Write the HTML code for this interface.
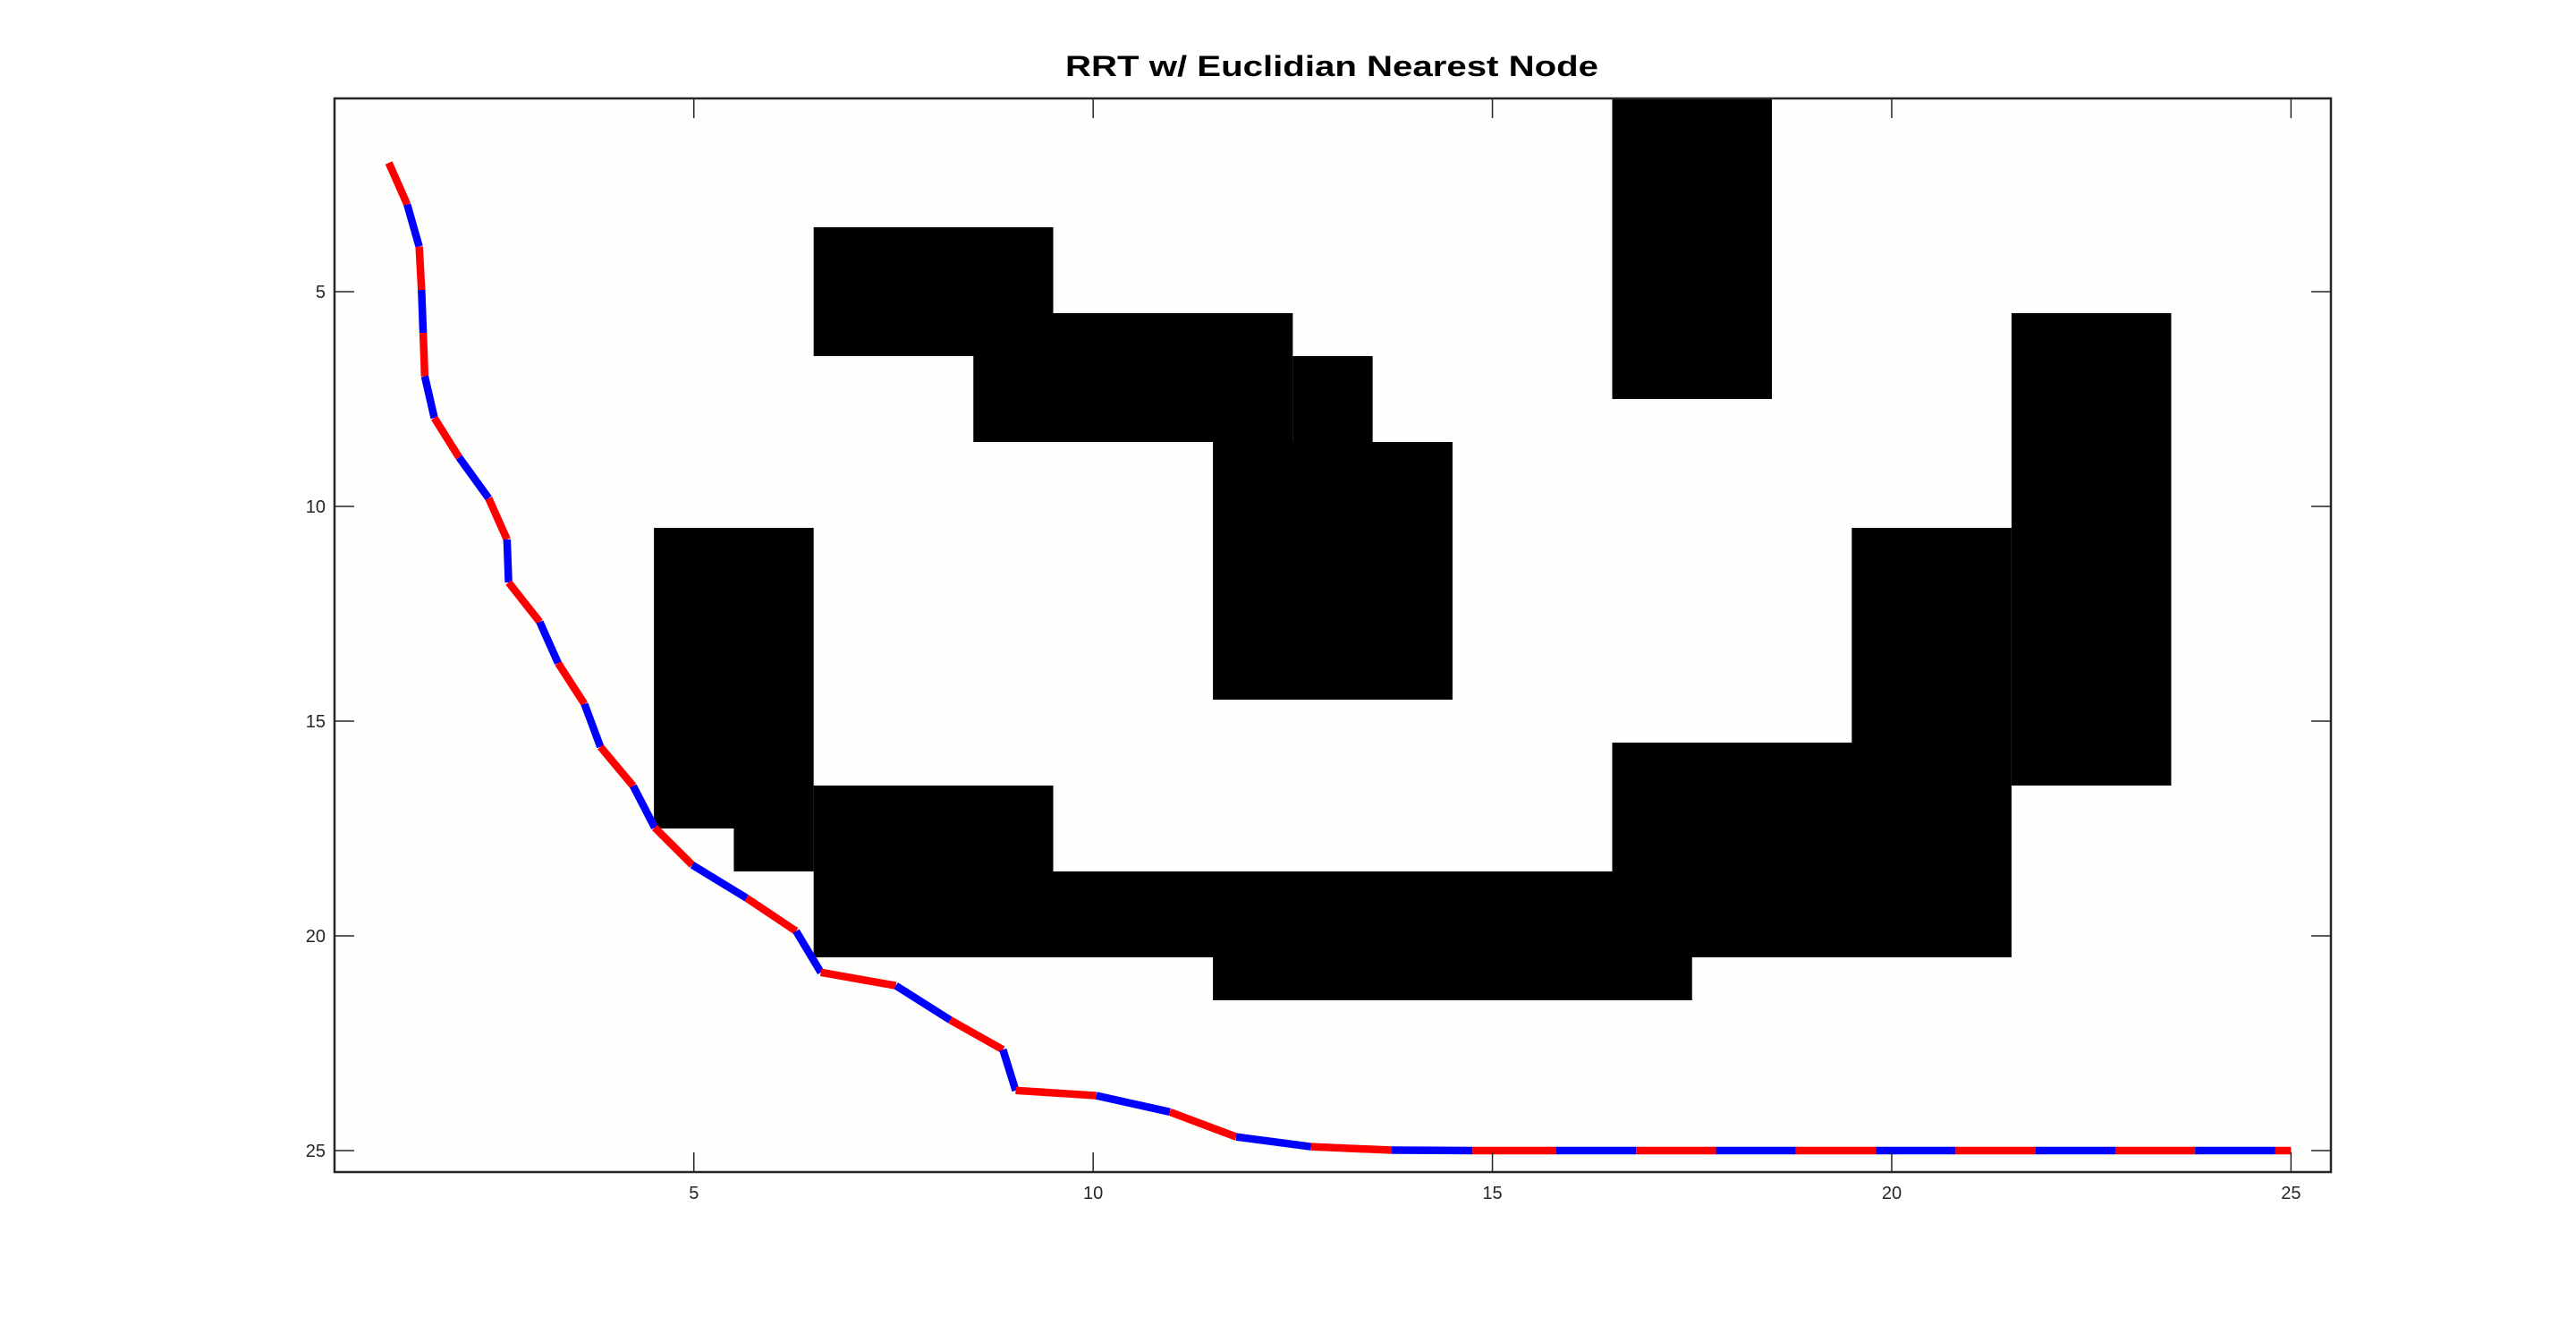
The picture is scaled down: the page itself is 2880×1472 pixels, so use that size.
<!DOCTYPE html>
<html><head><meta charset="utf-8"><style>
html,body{margin:0;padding:0;background:#fff;}
svg{display:block;}
text{font-family:"Liberation Sans",Arial,sans-serif;}
</style></head><body>
<svg id="chart" width="2880" height="1472" viewBox="0 0 2880 1472" xmlns="http://www.w3.org/2000/svg">
<rect x="0" y="0" width="2880" height="1472" fill="#ffffff"/>
<rect x="374" y="110" width="2232" height="1200" fill="#fefefc"/>
<g id="obstacles"></g>
<g id="path"></g>
<g id="axes"></g>
<text x="1489" y="85" text-anchor="middle" font-size="32" font-weight="bold" textLength="596" lengthAdjust="spacingAndGlyphs" fill="#000">RRT w/ Euclidian Nearest Node</text>
</svg>
<script>
// obstacle rectangles: [xmin, xmax, ymin, ymax] in data units
const obsX0 = [16.5, 6.5, 8.5, 12.5, 11.5, 4.5, 5.5, 6.5, 9.5, 11.5, 16.5, 19.5, 21.5];
const obsX1 = [18.5, 9.5, 12.5, 13.5, 14.5, 6.5, 6.5, 9.5, 16.5, 17.5, 21.5, 21.5, 23.5];
const obsY0 = [0.5, 3.5, 5.5, 6.5, 8.5, 10.5, 17.5, 16.5, 18.5, 20.5, 15.5, 10.5, 5.5];
const obsY1 = [7.5, 6.5, 8.5, 8.5, 14.5, 17.5, 18.5, 20.5, 20.5, 21.5, 20.5, 15.5, 16.5];
// path points
const pathX = [1.18,1.41,1.56,1.59,1.61,1.63,1.75,2.06,2.43,2.66,2.68,3.07,3.30,3.63,3.83,4.24,4.51,4.98,5.66,6.28,6.59,7.53,8.21,8.87,9.03,10.04,10.96,11.79,12.73,13.74,14.75,15.8,16.8,17.8,18.8,19.8,20.8,21.8,22.8,23.8,24.8,25];
const pathY = [2.0,2.97,3.95,4.96,5.96,6.97,7.94,8.86,9.81,10.77,11.77,12.69,13.65,14.6,15.6,16.51,17.48,18.35,19.12,19.89,20.85,21.16,21.96,22.65,23.6,23.72,24.1,24.68,24.91,24.99,25,25,25,25,25,25,25,25,25,25,25,25];
const xTicks = [5,10,15,20,25];
const yTicks = [5,10,15,20,25];

const L=374,R=2606,T=110,B=1310, xmin=0.5,xmax=25.5,ymin=0.5,ymax=25.5;
const sx=v=>L+(v-xmin)/(xmax-xmin)*(R-L);
const sy=v=>T+(v-ymin)/(ymax-ymin)*(B-T);
const NS="http://www.w3.org/2000/svg";
function mk(tag,attrs,parent){const e=document.createElementNS(NS,tag);for(const k in attrs)e.setAttribute(k,attrs[k]);parent.appendChild(e);return e;}

const og=document.getElementById('obstacles');
for(let i=0;i<obsX0.length;i++){
  const r=mk('rect',{x:sx(obsX0[i]),y:sy(obsY0[i]),width:sx(obsX1[i])-sx(obsX0[i]),height:sy(obsY1[i])-sy(obsY0[i]),fill:'#000'},og);
  
  
}
const pg=document.getElementById('path');
for(let i=0;i<pathX.length-1;i++){
  const l=mk('line',{x1:sx(pathX[i]),y1:sy(pathY[i]),x2:sx(pathX[i+1]),y2:sy(pathY[i+1]),stroke:(i%2===0?'#ff0000':'#0000ff'),'stroke-width':8.5},pg);
  
  
}
const ag=document.getElementById('axes');
const box=mk('rect',{x:L,y:T,width:R-L,height:B-T,fill:'none',stroke:'#262626','stroke-width':2.5},ag);


for(const t of xTicks){
  const X=sx(t);
  mk('line',{x1:X,y1:B,x2:X,y2:B-22,stroke:'#262626','stroke-width':1.5},ag);
  mk('line',{x1:X,y1:T,x2:X,y2:T+22,stroke:'#262626','stroke-width':1.5},ag);
  const tx=mk('text',{x:X,y:B+30,'text-anchor':'middle','font-size':20,fill:'#262626'},ag);
  tx.textContent=t;
  
  
}
for(const t of yTicks){
  const Y=sy(t);
  mk('line',{x1:L,y1:Y,x2:L+22,y2:Y,stroke:'#262626','stroke-width':1.5},ag);
  mk('line',{x1:R,y1:Y,x2:R-22,y2:Y,stroke:'#262626','stroke-width':1.5},ag);
  const ty=mk('text',{x:364,y:Y+7,'text-anchor':'end','font-size':20,fill:'#262626'},ag);
  ty.textContent=t;
  
  
}
</script>
</body></html>
